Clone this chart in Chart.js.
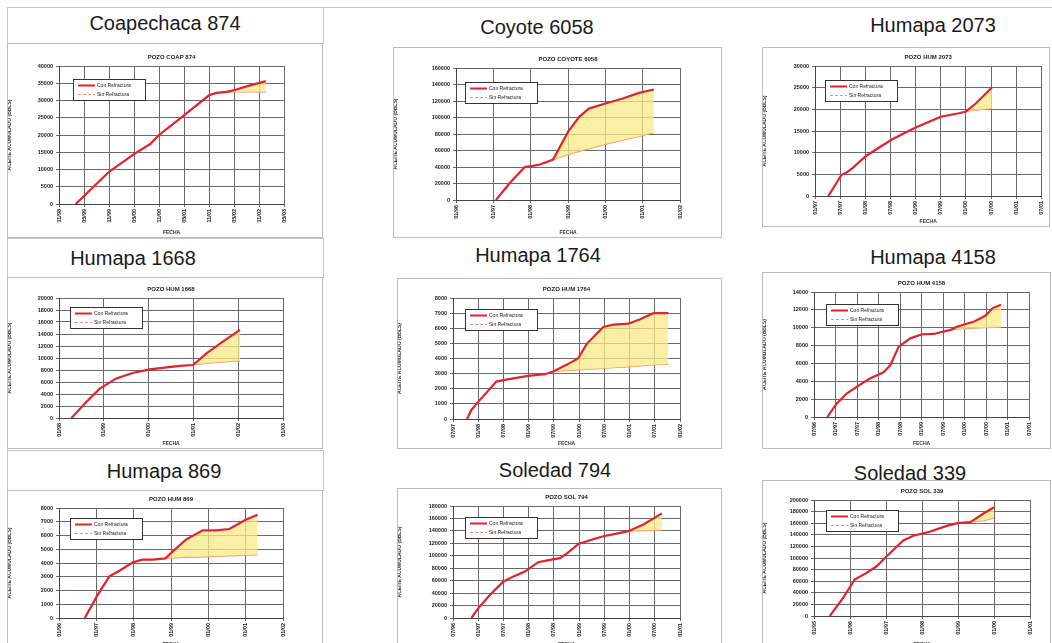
<!DOCTYPE html>
<html><head><meta charset="utf-8">
<script src="https://cdn.jsdelivr.net/npm/chart.js@4.4.1/dist/chart.umd.min.js"></script>
<style>
html,body{margin:0;padding:0;background:#fff;}
#wrap{position:relative;width:1052px;height:643px;overflow:hidden;font-family:"Liberation Sans",Arial,sans-serif;}
.bigt{position:absolute;transform:translate(-50%,-50%);font-size:20px;color:#1a1a1a;white-space:nowrap;}
.frame{position:absolute;border:1px solid #c8c8c8;box-sizing:border-box;}
canvas{position:absolute;}
</style></head><body><div id="wrap"></div>
<script>
// ---------------- DATA ----------------
const seriesNames = ["Con Refractura","Sin Refractura"];
const yTitle = "ACEITE ACUMULADO (BBLS)";
const xTitle = "FECHA";

const coap874_ticks = ["11/98","05/99","11/99","05/00","11/00","05/01","11/01","05/02","11/02","05/03"];
const coap874_x   = [0.67,2,3,3.67,4,5,6,6.3,6.7,7.1,7.5,8.27];
const coap874_con = [0,9350,14450,17500,20000,25700,31500,32200,32500,33200,34100,35600];
const coap874_sin = [0,9350,14450,17500,20000,25700,31500,32200,32400,32500,32500,32500];

const coy6058_ticks = ["01/96","01/97","01/98","01/99","01/00","01/01","01/02"];
const coy6058_x   = [1.07,1.43,1.84,2.02,2.25,2.6,3.0,3.3,3.56,4.0,4.47,4.9,5.3];
const coy6058_con = [0,20000,40000,41000,43000,49000,82500,100800,110800,117000,123000,129800,134000];
const coy6058_sin = [0,20000,40000,41000,43000,49000,55000,59000,62000,67500,72500,77000,81500];

const hum2073_ticks = ["01/97","07/97","01/98","07/98","01/99","07/99","01/00","07/00","01/01","07/01"];
const hum2073_x   = [0.53,1.05,1.25,1.5,2.04,3.07,4.0,5.0,5.72,6.0,6.4,7.04];
const hum2073_con = [0,4850,5400,6500,9300,13100,15800,18300,19100,19500,21400,25100];
const hum2073_sin = [0,4850,5400,6500,9300,13100,15800,18300,19100,19500,19800,20200];

const hum1668_ticks = ["01/98","01/99","01/00","01/01","01/02","01/03"];
const hum1668_x   = [0.28,0.61,0.91,1.28,1.66,2.03,2.4,2.7,2.99,3.3,3.6,4.04];
const hum1668_con = [0,2680,4900,6600,7540,8100,8430,8700,8830,10800,12450,14700];
const hum1668_sin = [0,2680,4900,6600,7540,8100,8430,8700,8830,9100,9300,9500];

const hum1764_ticks = ["07/97","01/98","07/98","01/99","07/99","01/00","07/00","01/01","07/01","01/02"];
const hum1764_x   = [0.56,0.73,0.93,1.72,2.05,2.98,3.64,3.97,4.5,4.97,5.3,5.96,6.36,6.95,7.42,7.95,8.54];
const hum1764_con = [0,600,1000,2475,2590,2850,2960,3140,3580,4020,4970,6080,6240,6300,6600,7000,7000];
const hum1764_sin = [0,600,1000,2475,2590,2850,2960,3140,3200,3250,3280,3340,3390,3450,3510,3570,3620];

const hum4158_ticks = ["07/96","01/97","07/97","01/98","07/98","01/99","07/99","01/00","07/00","01/01","07/01"];
const hum4158_x   = [0.62,1.05,1.52,1.98,2.6,3.23,3.55,3.94,4.48,5.03,5.58,6,6.36,6.67,7.45,7.97,8.31,8.7];
const hum4158_con = [0,1500,2630,3380,4310,5000,5800,7880,8810,9270,9300,9570,9760,10130,10700,11330,12200,12570];
const hum4158_sin = [0,1500,2630,3380,4310,5000,5800,7880,8810,9270,9300,9570,9760,9850,9950,10000,10030,10050];

const hum869_ticks = ["01/96","01/97","01/98","01/99","01/00","01/01","01/02"];
const hum869_x   = [0.69,1.04,1.35,1.62,1.98,2.24,2.51,2.85,3.05,3.4,3.85,4.2,4.56,5.0,5.32];
const hum869_con = [0,1700,3030,3440,4050,4240,4240,4340,4850,5700,6380,6380,6470,7150,7510];
const hum869_sin = [0,1700,3030,3440,4050,4240,4240,4340,4370,4410,4450,4480,4520,4560,4600];

const sol794_ticks = ["07/96","01/97","07/97","01/98","07/98","01/99","07/99","01/00","07/00","01/01"];
const sol794_x   = [0.73,0.99,1.46,1.99,2.38,2.85,3.38,3.84,4.24,4.5,4.97,5.43,5.96,6.49,6.95,7.55,8.28];
const sol794_con = [0,15100,36800,58400,66500,74600,89700,93500,96200,103200,118900,124900,131400,135700,139500,150300,168100];
const sol794_sin = [0,15100,36800,58400,66500,74600,89700,93500,96200,103200,118900,124900,131400,135700,139500,140500,141000];

const sol339_ticks = ["01/95","01/96","01/97","01/98","01/99","01/00","01/01"];
const sol339_x   = [0.44,0.81,1.13,1.46,1.74,2.02,2.48,2.76,3.23,3.69,3.99,4.34,4.72,5.0];
const sol339_con = [0,31400,62900,74300,85700,102900,130300,138300,145700,155400,160000,161700,177100,187400];
const sol339_sin = [0,31400,62900,74300,85700,102900,130300,138300,145700,155400,160000,161700,164500,168600];

// ---------------- PANELS (text + layout) ----------------
const panels = [
 {big:"Coapechaca 874", sub:"POZO COAP 874", ticks:coap874_ticks, x:coap874_x, con:coap874_con, sin:coap874_sin, ymax:40000, ystep:5000,
  tpos:[165,23], box:[7,43,323,238], plot:[59,66,284,204], leg:[73,79]},
 {big:"Coyote 6058", sub:"POZO COYOTE 6058", ticks:coy6058_ticks, x:coy6058_x, con:coy6058_con, sin:coy6058_sin, ymax:160000, ystep:20000,
  tpos:[537,27], box:[393,47,722,238], plot:[456,68,680,200], leg:[465,82]},
 {big:"Humapa 2073", sub:"POZO HUM 2073", ticks:hum2073_ticks, x:hum2073_x, con:hum2073_con, sin:hum2073_sin, ymax:30000, ystep:5000,
  tpos:[933,25], box:[762,47,1050,227], plot:[815,66,1043,196], leg:[825,80]},
 {big:"Humapa 1668", sub:"POZO HUM 1668", ticks:hum1668_ticks, x:hum1668_x, con:hum1668_con, sin:hum1668_sin, ymax:20000, ystep:2000,
  tpos:[133,258], box:[7,277,323,449], plot:[59,298,283,418], leg:[70,307]},
 {big:"Humapa 1764", sub:"POZO HUM 1764", ticks:hum1764_ticks, x:hum1764_x, con:hum1764_con, sin:hum1764_sin, ymax:8000, ystep:1000,
  tpos:[538,255], box:[397,278,722,449], plot:[453,298,680,419], leg:[465,309]},
 {big:"Humapa 4158", sub:"POZO HUM 4158", ticks:hum4158_ticks, x:hum4158_x, con:hum4158_con, sin:hum4158_sin, ymax:14000, ystep:2000,
  tpos:[933,257], box:[762,272,1051,449], plot:[814,292,1029,417], leg:[826,304]},
 {big:"Humapa 869", sub:"POZO HUM 869", ticks:hum869_ticks, x:hum869_x, con:hum869_con, sin:hum869_sin, ymax:8000, ystep:1000,
  tpos:[164,471], box:[7,490,323,650], plot:[59,508,283,618], leg:[70,518]},
 {big:"Soledad 794", sub:"POZO SOL 794", ticks:sol794_ticks, x:sol794_x, con:sol794_con, sin:sol794_sin, ymax:180000, ystep:20000,
  tpos:[555,470], box:[397,488,722,650], plot:[453,506,680,618], leg:[465,517]},
 {big:"Soledad 339", sub:"POZO SOL 339", ticks:sol339_ticks, x:sol339_x, con:sol339_con, sin:sol339_sin, ymax:200000, ystep:20000,
  tpos:[910,473], box:[762,480,1051,650], plot:[814,500,1030,616], leg:[826,510]}
];

const RED = "#e3232c", SIN = "#f3906c", FILL = "rgba(250,232,135,0.75)";
const FONT = "'Liberation Sans', Arial, sans-serif";
const wrap = document.getElementById("wrap");

function frame(l,t,w,h){const d=document.createElement("div");d.className="frame";
 d.style.left=l+"px";d.style.top=t+"px";d.style.width=w+"px";d.style.height=h+"px";wrap.appendChild(d);}
frame(7,7,1060,700);
frame(7,7,317,37);
frame(7,238,317,40);
frame(7,450,317,41);

const extras = {
 id:"extras",
 afterDraw(chart){
  const o = chart.options.plugins.extras, ctx = chart.ctx, a = chart.chartArea;
  ctx.save();
  ctx.strokeStyle="#bdbdbd"; ctx.lineWidth=1;
  ctx.strokeRect(0.5,0.5,chart.width-1,chart.height-1);
  ctx.fillStyle="#222"; ctx.font="bold 6px "+FONT; ctx.textAlign="center"; ctx.textBaseline="middle";
  ctx.fillText(o.sub,(a.left+a.right)/2,a.top-9);
  const lx=o.leg[0], ly=o.leg[1], lw=72, lh=21;
  ctx.fillStyle="#fff"; ctx.fillRect(lx,ly,lw,lh);
  ctx.strokeStyle="#333"; ctx.lineWidth=1; ctx.strokeRect(lx+0.5,ly+0.5,lw,lh);
  ctx.lineWidth=2; ctx.strokeStyle=RED; ctx.beginPath(); ctx.moveTo(lx+5,ly+6.5); ctx.lineTo(lx+22,ly+6.5); ctx.stroke();
  ctx.lineWidth=1; ctx.strokeStyle=SIN; ctx.setLineDash([3,2]); ctx.beginPath(); ctx.moveTo(lx+5,ly+15.5); ctx.lineTo(lx+22,ly+15.5); ctx.stroke();
  ctx.setLineDash([]);
  ctx.fillStyle="#222"; ctx.font="5px "+FONT; ctx.textAlign="left";
  ctx.fillText(o.names[0],lx+24,ly+6.5); ctx.fillText(o.names[1],lx+24,ly+15.5);
  ctx.restore();
 }
};

panels.forEach(p=>{
 const t=document.createElement("div"); t.className="bigt"; t.textContent=p.big;
 t.style.left=p.tpos[0]+"px"; t.style.top=p.tpos[1]+"px"; wrap.appendChild(t);
 const [bl,bt,br,bb]=p.box, [pl,pt,pr,pb]=p.plot;
 const cv=document.createElement("canvas"); cv.width=br-bl; cv.height=bb-bt;
 cv.style.left=bl+"px"; cv.style.top=bt+"px"; wrap.appendChild(cv);
 const conPts=p.x.map((v,i)=>({x:v,y:p.con[i]}));
 const sinPts=p.x.map((v,i)=>({x:v,y:p.sin[i]}));
 const yW=pl-bl, xH=bb-pb;
 new Chart(cv,{
  type:"line",
  data:{datasets:[
   {label:seriesNames[0],data:conPts,borderColor:RED,borderWidth:2.2,pointRadius:0,fill:{target:1},backgroundColor:FILL,tension:0},
   {label:seriesNames[1],data:sinPts,borderColor:SIN,borderWidth:1.2,pointRadius:0,fill:false,tension:0}
  ]},
  options:{
   responsive:false, animation:false, devicePixelRatio:1,
   layout:{padding:{left:0,top:pt-bt,right:br-pr,bottom:0}, autoPadding:false},
   plugins:{legend:{display:false},tooltip:{enabled:false},
     extras:{sub:p.sub,names:seriesNames,leg:[p.leg[0]-bl,p.leg[1]-bt]}},
   scales:{
    x:{type:"linear",min:0,max:p.ticks.length-1,
       ticks:{stepSize:1,autoSkip:false,minRotation:90,maxRotation:90,padding:2,color:"#222",font:{size:5.5,weight:"bold",family:FONT},
              callback:v=>p.ticks[Math.round(v)]},
       grid:{color:"#6a6a6a",lineWidth:1,tickLength:3},
       border:{color:"#444"},
       title:{display:true,text:xTitle,color:"#333",font:{size:5,weight:"bold",family:FONT},padding:{top:0,bottom:2}},
       afterFit:s=>{s.height=xH;}},
    y:{min:0,max:p.ymax,
       ticks:{stepSize:p.ystep,padding:3,color:"#222",font:{size:5.5,weight:"bold",family:FONT},callback:v=>String(v)},
       grid:{color:"#6a6a6a",lineWidth:1,tickLength:3},
       border:{color:"#444"},
       title:{display:true,text:yTitle,color:"#333",font:{size:5,weight:"bold",family:FONT},padding:{top:0,bottom:0}},
       afterFit:s=>{s.width=yW;}}
   }
  },
  plugins:[extras]
 });
});
</script></body></html>
